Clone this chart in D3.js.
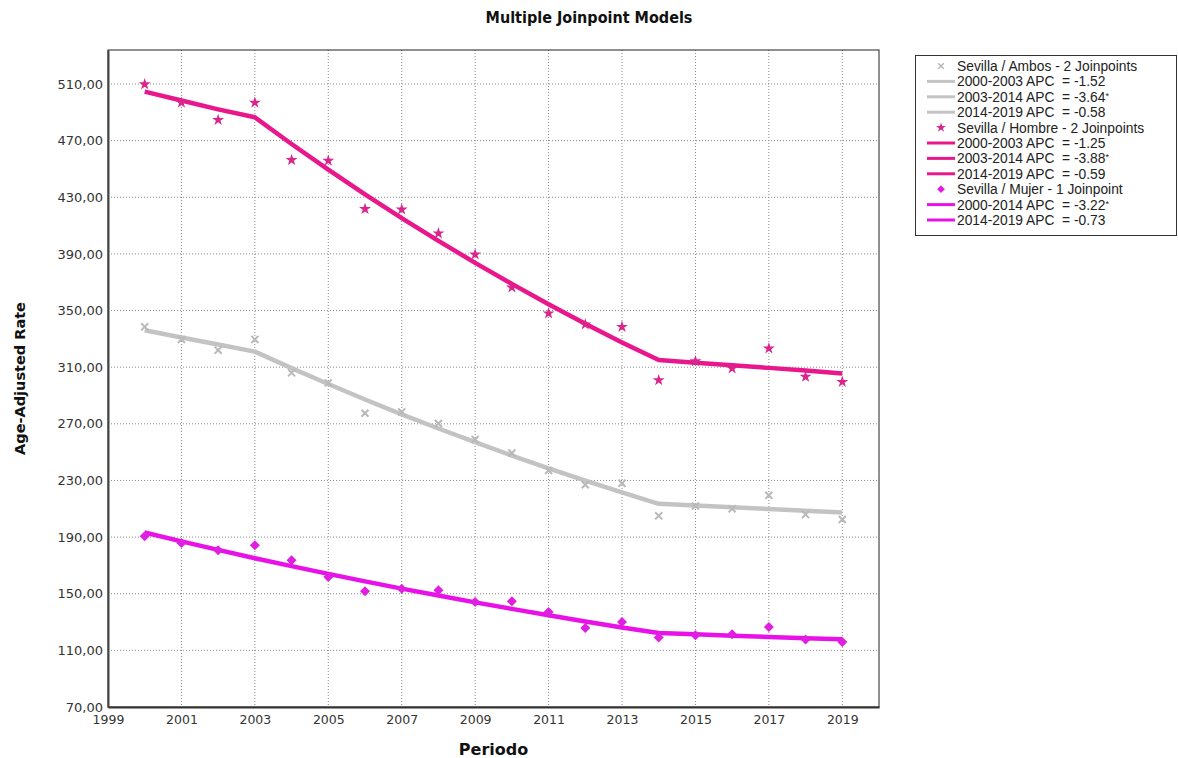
<!DOCTYPE html>
<html>
<head>
<meta charset="utf-8">
<script src="https://cdn.jsdelivr.net/npm/d3@7"></script>
<style>
  html, body { margin: 0; padding: 0; background: #fff; }
  svg { display: block; }
  .tick text { font-family: "DejaVu Sans", sans-serif; fill: #333; }
  .legend text { font-family: "Liberation Sans", Arial, sans-serif; font-size: 13.8px; fill: #222; white-space: pre; }
</style>
</head>
<body>
<svg id="chart" width="1178" height="758"></svg>
<script>
// Observed age-adjusted rates per year
const years = [2000, 2001, 2002, 2003, 2004, 2005, 2006, 2007, 2008, 2009,
               2010, 2011, 2012, 2013, 2014, 2015, 2016, 2017, 2018, 2019];
const ambos  = [338.5, 329.6, 322.0, 329.6, 306.0, 298.9, 277.5, 278.4, 270.2, 258.9,
                249.4, 237.0, 227.0, 228.0, 205.0, 212.0, 210.0, 219.5, 205.9, 202.4];
const hombre = [509.8, 496.8, 484.6, 496.8, 456.3, 455.8, 421.7, 421.4, 404.5, 389.6,
                366.3, 348.0, 340.2, 338.5, 300.8, 314.2, 309.1, 323.2, 303.2, 299.6];
const mujer  = [190.6, 185.9, 180.7, 184.2, 173.6, 161.8, 151.7, 153.6, 152.4, 144.1,
                144.6, 137.1, 125.8, 130.0, 119.0, 120.6, 121.3, 126.5, 117.6, 115.9];

// Fitted joinpoint model values per year
const ambosFit  = [336.1, 331.0, 326.0, 321.0, 309.3, 298.1, 287.2, 276.7, 266.7, 257.0,
                   247.6, 238.6, 229.9, 221.6, 213.5, 212.3, 211.0, 209.8, 208.6, 207.4];
const hombreFit = [504.6, 498.3, 492.1, 486.5, 467.6, 449.5, 432.0, 415.3, 399.2, 383.7,
                   368.8, 354.5, 340.7, 327.5, 315.0, 313.1, 311.3, 309.5, 307.6, 305.6];
const mujerFit  = [193.2, 187.0, 181.0, 175.1, 169.5, 164.0, 158.7, 153.6, 148.7, 143.9,
                   139.3, 134.8, 130.4, 126.2, 122.2, 121.3, 120.4, 119.5, 118.6, 117.8];

// Axis ticks
const yTicks = [70, 110, 150, 190, 230, 270, 310, 350, 390, 430, 470, 510];
const xTicks = [1999, 2001, 2003, 2005, 2007, 2009, 2011, 2013, 2015, 2017, 2019];

// Legend entries
const legendSeries = ["Sevilla / Ambos - 2 Joinpoints", "Sevilla / Hombre - 2 Joinpoints", "Sevilla / Mujer - 1 Joinpoint"];
const legendSegments = [
  [["2000-2003 APC  = -1.52", false], ["2003-2014 APC  = -3.64", true], ["2014-2019 APC  = -0.58", false]],
  [["2000-2003 APC  = -1.25", false], ["2003-2014 APC  = -3.88", true], ["2014-2019 APC  = -0.59", false]],
  [["2000-2014 APC  = -3.22", true], ["2014-2019 APC  = -0.73", false]]
];

const colors = {
  ambos:  { line: "#c3c3c3", mark: "#b9b9b9" },
  hombre: { line: "#e8188c", mark: "#d8268c" },
  mujer:  { line: "#e812e8", mark: "#e020e0" }
};

const svg = d3.select("#chart");
const plot = { left: 108, right: 879, top: 50, bottom: 707 };

const x = d3.scaleLinear().domain([1999, 2020]).range([plot.left, plot.right]);
const y = d3.scaleLinear().domain([70, 534]).range([plot.bottom, plot.top]);

// Title
svg.append("text")
  .attr("x", 589).attr("y", 23)
  .attr("text-anchor", "middle")
  .style("font-family", "'DejaVu Sans Condensed', 'DejaVu Sans', sans-serif")
  .style("font-stretch", "condensed")
  .style("font-weight", "bold")
  .style("font-size", "16px")
  .style("fill", "#111")
  .text("Multiple Joinpoint Models");

// Grid
const grid = svg.append("g");
grid.selectAll("line.h").data(yTicks.filter(v => v > 70)).join("line")
  .attr("x1", plot.left).attr("x2", plot.right)
  .attr("y1", d => y(d)).attr("y2", d => y(d))
  .attr("stroke", "#8a8a8a").attr("stroke-width", 1)
  .attr("stroke-dasharray", "1,2");
grid.selectAll("line.v").data(xTicks.filter(v => v > 1999)).join("line")
  .attr("y1", plot.top).attr("y2", plot.bottom)
  .attr("x1", d => x(d)).attr("x2", d => x(d))
  .attr("stroke", "#8a8a8a").attr("stroke-width", 1)
  .attr("stroke-dasharray", "1,2");

// Frame
svg.append("rect")
  .attr("x", plot.left).attr("y", plot.top)
  .attr("width", plot.right - plot.left).attr("height", plot.bottom - plot.top)
  .attr("fill", "none").attr("stroke", "#222").attr("stroke-width", 1);

// Axes
const yAxis = svg.append("g")
  .attr("transform", `translate(${plot.left},0)`)
  .call(d3.axisLeft(y).tickValues(yTicks).tickSize(0).tickPadding(5)
    .tickFormat(d => d3.format(".2f")(d).replace(".", ",")));
yAxis.select(".domain").attr("stroke", "#444").attr("stroke-width", 2);
yAxis.selectAll(".tick text").style("font-size", "13px");

const xAxis = svg.append("g")
  .attr("transform", `translate(0,${plot.bottom})`)
  .call(d3.axisBottom(x).tickValues(xTicks).tickSize(0).tickPadding(8).tickFormat(d3.format("d")));
xAxis.select(".domain").attr("stroke", "#333").attr("stroke-width", 2);
xAxis.selectAll(".tick text").style("font-size", "12.5px");

// Axis titles
svg.append("text")
  .attr("x", (plot.left + plot.right) / 2).attr("y", 755)
  .attr("text-anchor", "middle")
  .style("font-family", "'DejaVu Sans', sans-serif")
  .style("font-weight", "bold").style("font-size", "16px").style("fill", "#111")
  .text("Periodo");
svg.append("text")
  .attr("transform", `translate(25,${(plot.top + plot.bottom) / 2}) rotate(-90)`)
  .attr("text-anchor", "middle")
  .style("font-family", "'DejaVu Sans', sans-serif")
  .style("font-weight", "bold").style("font-size", "14.5px").style("fill", "#111")
  .text("Age-Adjusted Rate");

// Fitted lines
const line = d3.line().x(d => x(d[0])).y(d => y(d[1]));
function fitLine(vs, color) {
  svg.append("path")
    .datum(d3.zip(years, vs))
    .attr("d", line)
    .attr("fill", "none")
    .attr("stroke", color)
    .attr("stroke-width", 4.5)
    .attr("stroke-linejoin", "round");
}
fitLine(ambosFit, colors.ambos.line);
fitLine(hombreFit, colors.hombre.line);
fitLine(mujerFit, colors.mujer.line);

// Observed points
const symX = d3.symbol().type(d3.symbolX).size(34);
const symStar = d3.symbol().type(d3.symbolStar).size(44);
const symDiamond = d3.symbol().type(d3.symbolSquare).size(50);

function points(vals, sym, color, kind) {
  svg.append("g").selectAll("path").data(d3.zip(years, vals)).join("path")
    .attr("transform", d => `translate(${x(d[0])},${y(d[1])})` + (kind === "diamond" ? " rotate(45)" : ""))
    .attr("d", sym)
    .attr("fill", kind === "x" ? "none" : color)
    .attr("stroke", kind === "x" ? color : "none")
    .attr("stroke-width", kind === "x" ? 2 : 0);
}
points(ambos, symX, colors.ambos.mark, "x");
points(hombre, symStar, colors.hombre.mark, "star");
points(mujer, symDiamond, colors.mujer.mark, "diamond");

// Legend
const lg = svg.append("g").attr("class", "legend");
lg.append("rect")
  .attr("x", 915.5).attr("y", 55.5).attr("width", 261).attr("height", 180)
  .attr("fill", "#fff").attr("stroke", "#333").attr("stroke-width", 1);

const seriesKeys = ["ambos", "hombre", "mujer"];
const legendSyms = [
  d3.symbol().type(d3.symbolX).size(22)(),
  d3.symbol().type(d3.symbolStar).size(30)(),
  d3.symbol().type(d3.symbolSquare).size(30)()
];
let row = 0;
const rowY = i => 66 + i * 15.4;
seriesKeys.forEach((key, si) => {
  const c = colors[key];
  const cy = rowY(row);
  lg.append("path")
    .attr("transform", `translate(941,${cy})` + (si === 2 ? " rotate(45)" : ""))
    .attr("d", legendSyms[si])
    .attr("fill", si === 0 ? "none" : c.mark)
    .attr("stroke", si === 0 ? c.mark : "none")
    .attr("stroke-width", si === 0 ? 1.5 : 0);
  lg.append("text").attr("x", 957).attr("y", cy + 5).text(legendSeries[si]);
  row++;
  legendSegments[si].forEach(([label, sig]) => {
    const ly = rowY(row);
    lg.append("line")
      .attr("x1", 927).attr("x2", 955).attr("y1", ly).attr("y2", ly)
      .attr("stroke", c.line).attr("stroke-width", 3);
    const t = lg.append("text").attr("x", 957).attr("y", ly + 5);
    t.append("tspan").text(label);
    if (sig) t.append("tspan").attr("dy", -3).style("font-size", "9px").text("*");
    row++;
  });
});
</script>
</body>
</html>
